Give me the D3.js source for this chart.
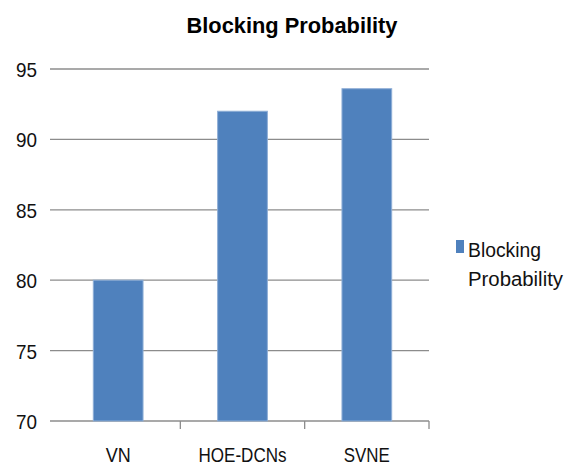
<!DOCTYPE html>
<html><head><meta charset="utf-8">
<script src="https://cdn.jsdelivr.net/npm/d3@7"></script>
<style>body{margin:0;background:#fff}</style>
</head><body>
<script>
const categories = ["VN", "HOE-DCNs", "SVNE"];
const values = [80, 92, 93.6];
const yTicks = [70, 75, 80, 85, 90, 95];
const seriesName = "Blocking Probability";
const titleText = "Blocking Probability";

const W = 566, H = 466;
const svg = d3.select("body").append("svg").attr("width", W).attr("height", H);
const font = "'Liberation Sans', Arial, sans-serif";

const y = d3.scaleLinear().domain([70, 95]).range([421, 69]);
const x = d3.scaleBand().domain(categories).range([56, 429]).paddingInner(0.6).paddingOuter(0.3);

// gridlines
svg.append("g").selectAll("line").data(yTicks).join("line")
  .attr("x1", 50).attr("x2", 429)
  .attr("y1", d => y(d)).attr("y2", d => y(d))
  .attr("stroke", "#8c8c8c").attr("stroke-width", 1.3);

// y labels
svg.append("g").selectAll("text").data(yTicks).join("text")
  .attr("x", 37).attr("y", d => y(d) + 8)
  .attr("text-anchor", "end")
  .attr("font-family", font).attr("font-size", 21).attr("fill", "#111")
  .attr("textLength", 21).attr("lengthAdjust", "spacingAndGlyphs")
  .text(d => d);

// bars
svg.append("g").selectAll("rect").data(values).join("rect")
  .attr("x", (d, i) => x(categories[i]))
  .attr("width", x.bandwidth())
  .attr("y", d => y(d))
  .attr("height", d => y(70) - y(d))
  .attr("fill", "#4F81BD").attr("stroke", "#8eaed6").attr("stroke-width", 1);

// category tick marks
const tickXs = [1, 2].map(i => (x(categories[i - 1]) + x.bandwidth() + x(categories[i])) / 2).concat([429]);
svg.append("g").selectAll("line").data(tickXs).join("line")
  .attr("x1", d => d).attr("x2", d => d)
  .attr("y1", 421).attr("y2", 429)
  .attr("stroke", "#8c8c8c").attr("stroke-width", 1.3);

// category labels
const catWidths = [25, 88, 46];
svg.append("g").selectAll("text").data(categories).join("text")
  .attr("x", d => x(d) + x.bandwidth() / 2).attr("y", 462)
  .attr("text-anchor", "middle")
  .attr("font-family", font).attr("font-size", 21).attr("fill", "#111")
  .attr("textLength", (d, i) => catWidths[i]).attr("lengthAdjust", "spacingAndGlyphs")
  .text(d => d);

// title
svg.append("text").attr("x", 292).attr("y", 33).attr("text-anchor", "middle")
  .attr("font-family", font).attr("font-size", 22).attr("font-weight", "bold").attr("fill", "#000")
  .attr("textLength", 211).attr("lengthAdjust", "spacingAndGlyphs")
  .text(titleText);

// legend
const lg = svg.append("g");
lg.append("rect").attr("x", 456).attr("y", 240).attr("width", 8).attr("height", 13).attr("fill", "#4F81BD");
const words = seriesName.split(" ");
const lw = [73, 95];
lg.selectAll("text").data(words).join("text")
  .attr("x", 468).attr("y", (d, i) => 257 + i * 29)
  .attr("font-family", font).attr("font-size", 20).attr("fill", "#111")
  .attr("textLength", (d, i) => lw[i]).attr("lengthAdjust", "spacingAndGlyphs")
  .text(d => d);
</script>
</body></html>
